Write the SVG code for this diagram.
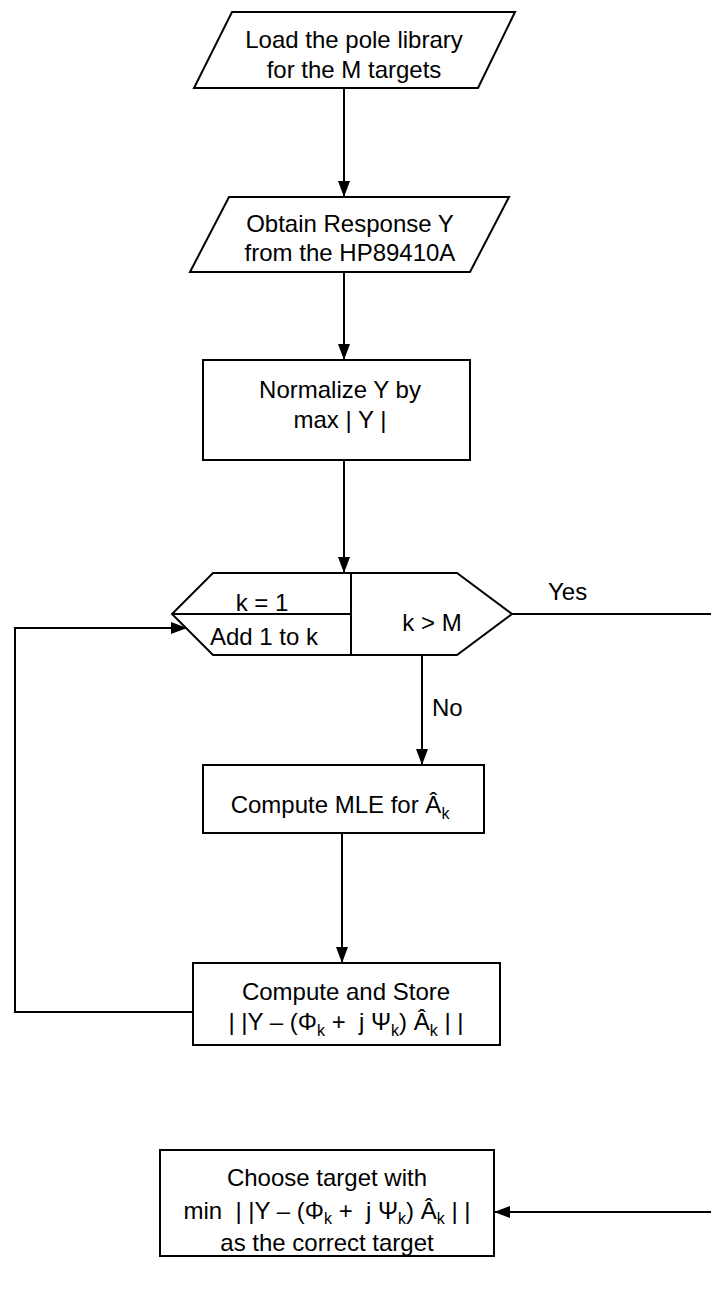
<svg xmlns="http://www.w3.org/2000/svg" width="711" height="1309" viewBox="0 0 711 1309">
<style>
.s{fill:#fff;stroke:#000;stroke-width:2}
.c{fill:none;stroke:#000;stroke-width:2}
text{font-family:"Liberation Sans",Arial,sans-serif;font-size:24px;fill:#000;text-anchor:middle}
.l{text-anchor:start}
.sub{font-size:16px}
</style>
<defs>
<marker id="ar" markerWidth="16" markerHeight="12" refX="16" refY="6" orient="auto" markerUnits="userSpaceOnUse">
<path d="M0,0 L16,6 L0,12 Z" fill="#000"/>
</marker>
</defs>
<g id="connectors">
<line class="c" x1="344" y1="88" x2="344" y2="197" marker-end="url(#ar)"/>
<line class="c" x1="344" y1="272" x2="344" y2="360" marker-end="url(#ar)"/>
<line class="c" x1="344" y1="460" x2="344" y2="573" marker-end="url(#ar)"/>
<line class="c" x1="512" y1="614" x2="711" y2="614"/>
<text class="l" x="548" y="600">Yes</text>
<line class="c" x1="422" y1="655" x2="422" y2="765" marker-end="url(#ar)"/>
<text class="l" x="432" y="716">No</text>
<line class="c" x1="342" y1="833" x2="342" y2="963" marker-end="url(#ar)"/>
<polyline class="c" points="193,1012 15,1012 15,628 187,628" marker-end="url(#ar)"/>
<line class="c" x1="711" y1="1212" x2="494" y2="1212" marker-end="url(#ar)"/>
</g>
<g id="load">
<polygon class="s" points="232,12 515,12 478,88 194,88"/>
<text x="354" y="48">Load the pole library</text>
<text x="354" y="78">for the M targets</text>
</g>
<g id="obtain">
<polygon class="s" points="229,197 509,197 470,272 190,272"/>
<text x="350" y="232">Obtain Response Y</text>
<text x="350" y="261">from the HP89410A</text>
</g>
<g id="normalize">
<rect class="s" x="203" y="360" width="267" height="100"/>
<text x="340" y="398">Normalize Y by</text>
<text x="340" y="428">max | Y |</text>
</g>
<g id="loop">
<polygon class="s" points="172,614 213,573 457,573 512,614 457,655 213,655"/>
<line class="c" x1="351" y1="573" x2="351" y2="655"/>
<line class="c" x1="172" y1="614" x2="351" y2="614"/>
<text x="262" y="611">k = 1</text>
<text x="264" y="645">Add 1 to k</text>
<text x="432" y="631">k &gt; M</text>
</g>
<g id="mle">
<rect class="s" x="203" y="765" width="281" height="68"/>
<text x="340" y="813">Compute MLE for Â<tspan class="sub" dy="6">k</tspan></text>
</g>
<g id="store">
<rect class="s" x="193" y="963" width="307" height="82"/>
<text x="346" y="1000">Compute and Store</text>
<text x="346" y="1030" xml:space="preserve">| |Y – (Φ<tspan class="sub" dy="6">k</tspan><tspan dy="-6"> +  j Ψ</tspan><tspan class="sub" dy="6">k</tspan><tspan dy="-6">) Â</tspan><tspan class="sub" dy="6">k</tspan><tspan dy="-6"> | |</tspan></text>
</g>
<g id="choose">
<rect class="s" x="160" y="1150" width="334" height="106"/>
<text x="327" y="1186">Choose target with</text>
<text x="327" y="1219" xml:space="preserve">min  | |Y – (Φ<tspan class="sub" dy="5">k</tspan><tspan dy="-5"> +  j Ψ</tspan><tspan class="sub" dy="5">k</tspan><tspan dy="-5">) Â</tspan><tspan class="sub" dy="5">k</tspan><tspan dy="-5"> | |</tspan></text>
<text x="327" y="1251">as the correct target</text>
</g>
</svg>
